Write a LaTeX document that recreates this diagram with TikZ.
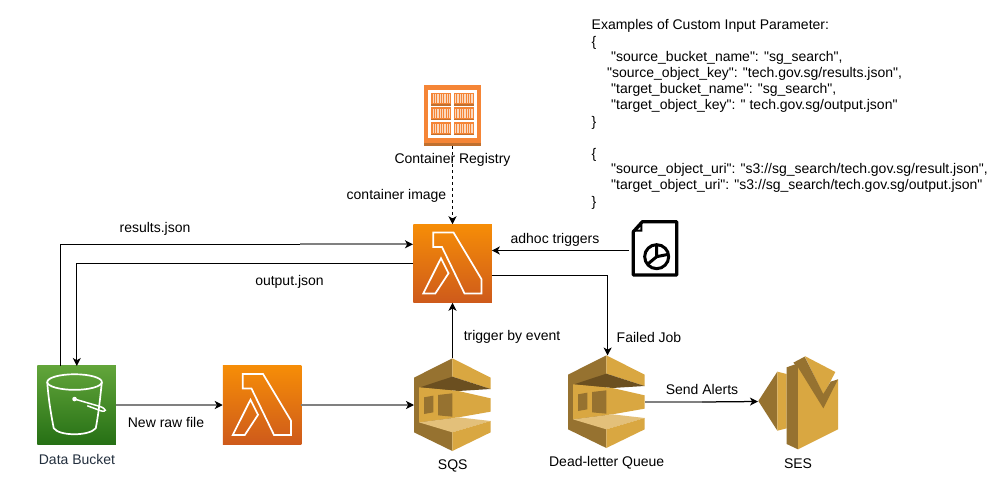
\documentclass[tikz,border=0pt]{standalone}
\usepackage{fontspec}
\newfontfamily\plainsans{Liberation Sans}
\usetikzlibrary{arrows.meta,calc}
\definecolor{sqslight}{HTML}{D9A741}
\definecolor{sqsdark}{HTML}{967230}
\definecolor{sqsdeep}{HTML}{6B4F20}
\definecolor{sqspale}{HTML}{E3C07A}
\definecolor{regorange}{HTML}{F58536}
\definecolor{regdark}{HTML}{C0702F}
\definecolor{regpale}{HTML}{FBD9BE}
\definecolor{linegray}{HTML}{808080}
\definecolor{navytext}{HTML}{232F3E}
\tikzset{
  x=1pt,y=-1pt,
  lbl/.style={inner sep=0pt,font=\plainsans\fontsize{14}{16}\selectfont,text=black},
  jsonline/.style={lbl,anchor=west},
  lambdabox/.style={minimum width=78.5pt,minimum height=78.5pt,inner sep=0pt,outer sep=0pt,top color=lamtop,bottom color=lambot},
  bucketbox/.style={minimum width=78.5pt,minimum height=78.5pt,inner sep=0pt,outer sep=0pt,top color=buctop,bottom color=bucbot},
  hitbox/.style={inner sep=0pt,outer sep=0pt},
  conn/.style={line width=1.25pt,black},
  thickconn/.style={line width=2pt,linegray},
  tip/.style={-{Stealth[length=8pt,width=8pt,inset=2.2pt,color=black]}},
  iconline/.style={draw=white,line width=1.7pt,line join=miter,fill=none},
}
\definecolor{lamtop}{HTML}{F68D07}
\definecolor{lambot}{HTML}{CE5A1B}
\definecolor{buctop}{HTML}{62A53A}
\definecolor{bucbot}{HTML}{267015}
\newcommand{\lamicon}[1]{%
  \begin{scope}[shift={(#1.north west)}]
    \draw[iconline] (20,8.3)--(40.3,8.3)--(68.3,55)--(68.3,69.3)--(51.3,69.3)--(28.7,22.7)--(20,22.7)--cycle;
    \draw[iconline] (27.7,34)--(35.3,49)--(22,69.3)--(10,69.3)--cycle;
  \end{scope}}
\newcommand{\queueicon}[2]{%
  \begin{scope}[shift={(#1,#2)},scale=0.33333]
    \fill[sqsdark] (157,55)--(42,113)--(42,277)--(157,333)--cycle;
    \fill[sqslight] (157,55)--(272,113)--(272,147)--(157,110)--cycle;
    \fill[sqsdeep] (60,142)--(157,110)--(272,147)--(175,153)--cycle;
    \fill[sqslight] (57,142)--(175,153)--(272,175)--(272,215)--(175,232)--(57,247)--cycle;
    \fill[sqsdark] (72,172)--(100,167)--(100,217)--(72,222)--cycle;
    \fill[sqsdark] (114,165)--(157,160)--(157,230)--(114,226)--cycle;
    \fill[sqspale] (57,247)--(175,232)--(272,243)--(157,277)--cycle;
    \fill[sqslight] (157,277)--(272,243)--(272,277)--(157,333)--cycle;
  \end{scope}}
\begin{document}
\begin{tikzpicture}
\useasboundingbox (0,0) rectangle (1002,492);
\fill[white] (0,0) rectangle (1002,492);

% Boxes / hit areas
\node[lambdabox] (lam) at (452.5,263.5) {};
\node[lambdabox] (lamtwo) at (262,405) {};
\node[bucketbox] (bucket) at (76.5,405) {};
\node[hitbox,minimum width=77pt,minimum height=94pt] (sqs) at (452.5,405) {};
\node[hitbox,minimum width=77pt,minimum height=93pt] (dlq) at (606.5,402) {};
\node[hitbox,minimum width=80pt,minimum height=93pt] (ses) at (798,401.5) {};
\node[hitbox,minimum width=57pt,minimum height=61pt] (reg) at (452.5,115.5) {};
\node[hitbox,minimum width=52pt,minimum height=54pt] (doc) at (655,250.5) {};

\lamicon{lam}
\lamicon{lamtwo}

% S3 bucket icon
\begin{scope}[shift={(bucket.north west)}]
  \draw[iconline] (37.3,16.3) ellipse [x radius=27.3,y radius=7.8];
  \draw[iconline] (10,16.3) .. controls (11,32) and (14,50) .. (16.5,62.5) .. controls (22,70.5) and (52,70.5) .. (58.5,62.5) .. controls (61,50) and (63,32) .. (64.6,16.3);
  \fill[white] (37.3,33.3) circle [radius=2.3];
  \draw[white,line width=1.5pt] (37.3,33.3) -- (62,40.5) .. controls (70,43) and (69.5,47) .. (63.5,45) -- (50,40);
\end{scope}

\queueicon{400}{340}
\queueicon{554}{337}

% SES icon
\begin{scope}[shift={(680,340)},scale=0.33333]
  \fill[sqsdark] (235,183)--(292,95)--(292,272)--cycle;
  \fill[sqslight] (292,95)--(320,102)--(320,265)--(292,272)--cycle;
  \fill[sqsdark] (320,82)--(354,70)--(354,328)--(320,312)--cycle;
  \fill[sqslight] (354,75)--(430,165)--(474,118)--(474,268)--(354,328)--cycle;
  \fill[sqslight] (374,48)--(466,96)--(430,165)--cycle;
  \fill[sqsdark] (340,68)--(374,50)--(430,162)--(452,125)--(474,118)--(430,205)--(354,82)--cycle;
\end{scope}

% Container registry icon
\begin{scope}[shift={(400,70)},scale=0.33333]
  \fill[regorange] (72,45) rectangle (243,218);
  \fill[regdark] (72,218) rectangle (243,227);
  \fill[white] (85,60) rectangle (230,205);
  \foreach \cx in {94,161}{
    \foreach \cy in {68,112,157}{
      \fill[regorange] (\cx,\cy) rectangle ++(60,39);
      \fill[regdark] (\cx,\cy+34) rectangle ++(60,5);
      \foreach \st in {4,11,18,25,32,39,46,53}{
        \fill[regpale] (\cx+\st,\cy+4) rectangle ++(4,28);
      }
    }
  }
\end{scope}

% Document icon
\begin{scope}[shift={(625,215)},scale=0.33333]
  \draw[black,line width=3.2pt,line join=round] (52,20)--(155,20)--(155,180)--(25,180)--(25,50)--cycle;
  \fill[black] (52,20)--(52,50)--(25,50)--cycle;
  \fill[white] (46,36)--(46,44)--(38,44)--cycle;
  \draw[black,line width=3pt] (95,125) circle [radius=36];
  \draw[black,line width=3pt] (95,90)--(95,125)--(130,118);
  \draw[black,line width=3pt] (95,125)--(65,150);
\end{scope}

% Connector attachment points
\coordinate (bkout) at (60.5,366);
\coordinate (bkin) at (76.8,366);
\coordinate (lamin) at (413,244.3);
\coordinate (lamout) at (413,263.2);
\coordinate (lamfail) at (491.8,275.7);
\coordinate (lamadhoc) at (491.8,250.5);
\coordinate (corna) at (60.5,244.3);
\coordinate (cornb) at (76.8,263.2);
\coordinate (cornc) at (607.6,275.7);
\coordinate (fade) at (300,244.3);
\coordinate (fadeb) at (702,402);

% Connectors
\draw[conn] (bkout) -- (corna) -- (fade);
\draw[thickconn,tip] (fade) -- (lamin);
\draw[conn,tip] (lamout) -- (cornb) -- (bkin);
\draw[thickconn,tip] (bucket.east) -- (lamtwo.west);
\draw[thickconn,tip] (lamtwo.east) -- (sqs.west);
\draw[conn,tip] (sqs.north) -- (lam.south);
\draw[conn,tip] (lamfail) -- (cornc) -- (cornc |- dlq.north);
\draw[conn,tip] (doc.west) -- (lamadhoc);
\draw[thickconn] (dlq.east) -- (fadeb);
\draw[conn,tip] (fadeb) -- (ses.west);
\draw[conn,dash pattern=on 3pt off 3pt,tip] (reg.south) -- (lam.north);

% Labels
\node[lbl] (t1) at (155,229) {results.json};
\node[lbl] (t2) at (289.5,281.7) {output.json};
\node[lbl] (t3) at (166,422) {New raw file};
\node[lbl,text=navytext] (t4) at (77,459) {Data Bucket};
\node[lbl] (t5) at (452.7,466) {SQS};
\node[lbl] (t6) at (606.7,463) {Dead-letter Queue};
\node[lbl] (t7) at (798,464) {SES};
\node[lbl] (t8) at (702,389) {Send Alerts};
\node[lbl] (t9) at (452.5,160) {Container Registry};
\node[lbl] (t10) at (396.5,196) {container image};
\node[lbl] (t11) at (555,240) {adhoc triggers};
\node[lbl] (t12) at (512,337) {trigger by event};
\node[lbl] (t13) at (649,337) {Failed Job};

% Parameter text
\node[jsonline] (j1) at (591.5,26) {Examples of Custom Input Parameter:};
\node[jsonline] (j2) at (591.5,43) {\{};
\node[jsonline] (j3) at (611,58) {"source\_bucket\_name": "sg\_search",};
\node[jsonline] (j4) at (607,74) {"source\_object\_key": "tech.gov.sg/results.json",};
\node[jsonline] (j5) at (611,90) {"target\_bucket\_name": "sg\_search",};
\node[jsonline] (j6) at (611,106) {"target\_object\_key": " tech.gov.sg/output.json"};
\node[jsonline] (j7) at (591.5,123) {\}};
\node[jsonline] (j8) at (591.5,155) {\{};
\node[jsonline] (j9) at (611,170) {"source\_object\_uri": "s3://sg\_search/tech.gov.sg/result.json",};
\node[jsonline] (j10) at (611,186) {"target\_object\_uri": "s3://sg\_search/tech.gov.sg/output.json"};
\node[jsonline] (j11) at (591.5,203) {\}};
\end{tikzpicture}
\end{document}
